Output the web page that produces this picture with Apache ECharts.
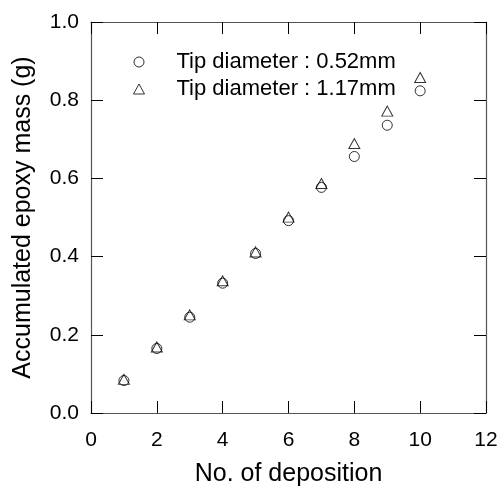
<!DOCTYPE html>
<html><head><meta charset="utf-8">
<script src="https://cdn.jsdelivr.net/npm/echarts@6/dist/echarts.min.js"></script>
<style>html,body{margin:0;padding:0;background:#fff}#c{width:501px;height:492px}</style>
</head><body><div id="c"></div>
<script>
const depositions = [1,2,3,4,5,6,7,8,9,10];
const tip052 = [0.083,0.165,0.245,0.332,0.408,0.492,0.577,0.656,0.736,0.824];
const tip117 = [0.086,0.169,0.251,0.338,0.412,0.501,0.587,0.689,0.772,0.858];
const seriesNames = ['Tip diameter : 0.52mm','Tip diameter : 1.17mm'];
const xTitle = 'No. of deposition';
const yTitle = 'Accumulated epoxy mass (g)';

const font = 'Liberation Sans, Arial, sans-serif';
const axisCol = '#555';
const chart = echarts.init(document.getElementById('c'));
const pair = (xs, ys) => xs.map((x,i)=>[x, ys[i]]);
const common = () => ({
  axisLine:{show:true,onZero:false,lineStyle:{color:axisCol,width:1.2}},
  axisTick:{show:true,inside:true,length:12,lineStyle:{color:'#000',width:1}},
  splitLine:{show:false}
});
chart.setOption({
  animation:false,
  backgroundColor:'#fff',
  grid:{left:91,right:15,top:22,bottom:76},
  legend:{
    orient:'vertical', left:128, top:46, itemGap:5,
    itemWidth:11, itemHeight:10,
    itemStyle:{borderWidth:1},
    textStyle:{fontFamily:font,fontSize:22,color:'#000',lineHeight:22,padding:[0,0,0,27]},
    data:seriesNames
  },
  xAxis:[
    Object.assign({type:'value',min:0,max:12,interval:2,position:'bottom',
      name:xTitle,nameLocation:'middle',nameGap:49,
      nameTextStyle:{fontFamily:font,fontSize:25,color:'#000'},
      axisLabel:{fontFamily:font,fontSize:21,color:'#000',margin:17}},common()),
    Object.assign({type:'value',min:0,max:12,interval:2,position:'top',axisLabel:{show:false}},common())
  ],
  yAxis:[
    Object.assign({type:'value',min:0,max:1,interval:0.2,position:'left',
      name:yTitle,nameLocation:'middle',nameGap:55,
      nameTextStyle:{fontFamily:font,fontSize:25,color:'#000'},
      axisLabel:{fontFamily:font,fontSize:21,color:'#000',margin:12,formatter:v=>v.toFixed(1)}},common()),
    Object.assign({type:'value',min:0,max:1,interval:0.2,position:'right',axisLabel:{show:false}},common())
  ],
  series:[
    {name:seriesNames[0],type:'scatter',symbol:'circle',symbolSize:10,
     itemStyle:{color:'rgba(0,0,0,0)',borderColor:'#000',borderWidth:1},
     data:pair(depositions,tip052)},
    {name:seriesNames[1],type:'scatter',symbol:'triangle',symbolSize:[11,10],
     itemStyle:{color:'rgba(0,0,0,0)',borderColor:'#000',borderWidth:1},
     data:pair(depositions,tip117)}
  ]
});
</script></body></html>
